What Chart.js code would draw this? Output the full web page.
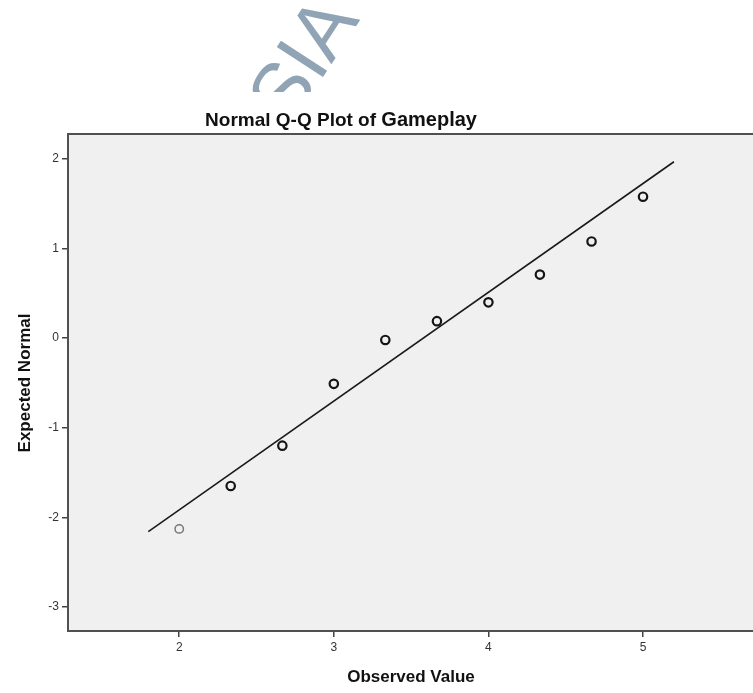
<!DOCTYPE html>
<html>
<head>
<meta charset="utf-8">
<script src="https://cdn.jsdelivr.net/npm/chart.js@4/dist/chart.umd.min.js"></script>
<style>
    body { margin: 0; background: #fff; }
    #wrap { width: 753px; height: 693px; }
</style>
</head>
<body>
<div id="wrap"><canvas id="qq" width="753" height="693"></canvas></div>
<script>
// observed values and their expected normal scores
const observed = [2, 2.333, 2.667, 3, 3.333, 3.667, 4, 4.333, 4.667, 5];
const expected = [-2.13, -1.65, -1.20, -0.51, -0.02, 0.19, 0.40, 0.71, 1.08, 1.58];

// reference line end points
const lineX = [1.8, 5.2];
const lineY = [-2.16, 1.97];

const xTicks = [2, 3, 4, 5];
const yTicks = [-3, -2, -1, 0, 1, 2];

const titleMain = 'Normal Q-Q Plot of ';
const titleVar = 'Gameplay';
const xTitle = 'Observed Value';
const yTitle = 'Expected Normal';
const watermark = 'SIA';

const FONT = '"Liberation Sans", Arial, sans-serif';

// background, frame, titles and watermark
const decor = {
    id: 'decor',
    beforeDatasetsDraw(chart) {
        const {ctx, chartArea: a} = chart;
        ctx.save();
        ctx.fillStyle = '#f0f0f0';
        ctx.fillRect(a.left, a.top, chart.width - a.left, a.bottom - a.top);
        ctx.restore();
    },
    afterDraw(chart) {
        const {ctx, chartArea: a} = chart;
        ctx.save();
        ctx.strokeStyle = '#505050';
        ctx.lineWidth = 2;
        ctx.strokeRect(a.left, a.top, chart.width - a.left + 4, a.bottom - a.top);

        // watermark, clipped above the title
        ctx.save();
        ctx.beginPath();
        ctx.rect(0, 0, chart.width, 92);
        ctx.clip();
        ctx.translate(290, 128);
        ctx.rotate(-57 * Math.PI / 180);
        ctx.fillStyle = '#90a4b5';
        ctx.font = '80px ' + FONT;
        ctx.textBaseline = 'alphabetic';
        ctx.fillText(watermark, 0, 0);
        ctx.restore();

        // title with larger variable name
        ctx.fillStyle = '#111';
        ctx.textBaseline = 'alphabetic';
        ctx.font = 'bold 19px ' + FONT;
        const w1 = ctx.measureText(titleMain).width;
        ctx.font = 'bold 20px ' + FONT;
        const w2 = ctx.measureText(titleVar).width;
        let x = 341 - (w1 + w2) / 2;
        ctx.font = 'bold 19px ' + FONT;
        ctx.fillText(titleMain, x, 126);
        ctx.font = 'bold 20px ' + FONT;
        ctx.fillText(titleVar, x + w1, 126);

        // axis titles
        ctx.font = 'bold 17px ' + FONT;
        ctx.textAlign = 'center';
        ctx.textBaseline = 'middle';
        ctx.fillText(xTitle, 411, 677);
        ctx.translate(25, 383);
        ctx.rotate(-Math.PI / 2);
        ctx.fillText(yTitle, 0, 0);
        ctx.restore();
    }
};

const points = observed.map((v, i) => ({x: v, y: expected[i]}));
const fit = lineX.map((v, i) => ({x: v, y: lineY[i]}));

new Chart(document.getElementById('qq'), {
    type: 'scatter',
    data: {
        datasets: [{
            type: 'line',
            data: fit,
            borderColor: '#1a1a1a',
            borderWidth: 1.6,
            pointRadius: 0,
            fill: false
        }, {
            data: points,
            backgroundColor: 'rgba(0,0,0,0)',
            borderColor: ctx => ctx.dataIndex === 0 ? '#777' : '#151515',
            borderWidth: ctx => ctx.dataIndex === 0 ? 1.5 : 2.2,
            pointRadius: 4.2
        }]
    },
    options: {
        responsive: false,
        animation: false,
        layout: {padding: {top: 134, left: 0, right: 0, bottom: 0}},
        plugins: {
            legend: {display: false},
            tooltip: {enabled: false}
        },
        scales: {
            x: {
                type: 'linear',
                min: 1.2805,
                max: 5.67,
                afterBuildTicks: s => { s.ticks = xTicks.map(v => ({value: v})); },
                afterFit: s => { s.height = 62; },
                grid: {drawOnChartArea: false, drawTicks: true, tickLength: 6, color: '#444', lineWidth: 1.5},
                border: {display: false},
                ticks: {color: '#333', padding: 3, font: {family: FONT, size: 12}, maxRotation: 0}
            },
            y: {
                type: 'linear',
                min: -3.27,
                max: 2.28,
                afterBuildTicks: s => { s.ticks = yTicks.map(v => ({value: v})); },
                afterFit: s => { s.width = 68; },
                grid: {drawOnChartArea: false, drawTicks: true, tickLength: 6, color: '#444', lineWidth: 1.5},
                border: {display: false},
                ticks: {color: '#333', padding: 3, font: {family: FONT, size: 12}}
            }
        }
    },
    plugins: [decor]
});
</script>
</body>
</html>
